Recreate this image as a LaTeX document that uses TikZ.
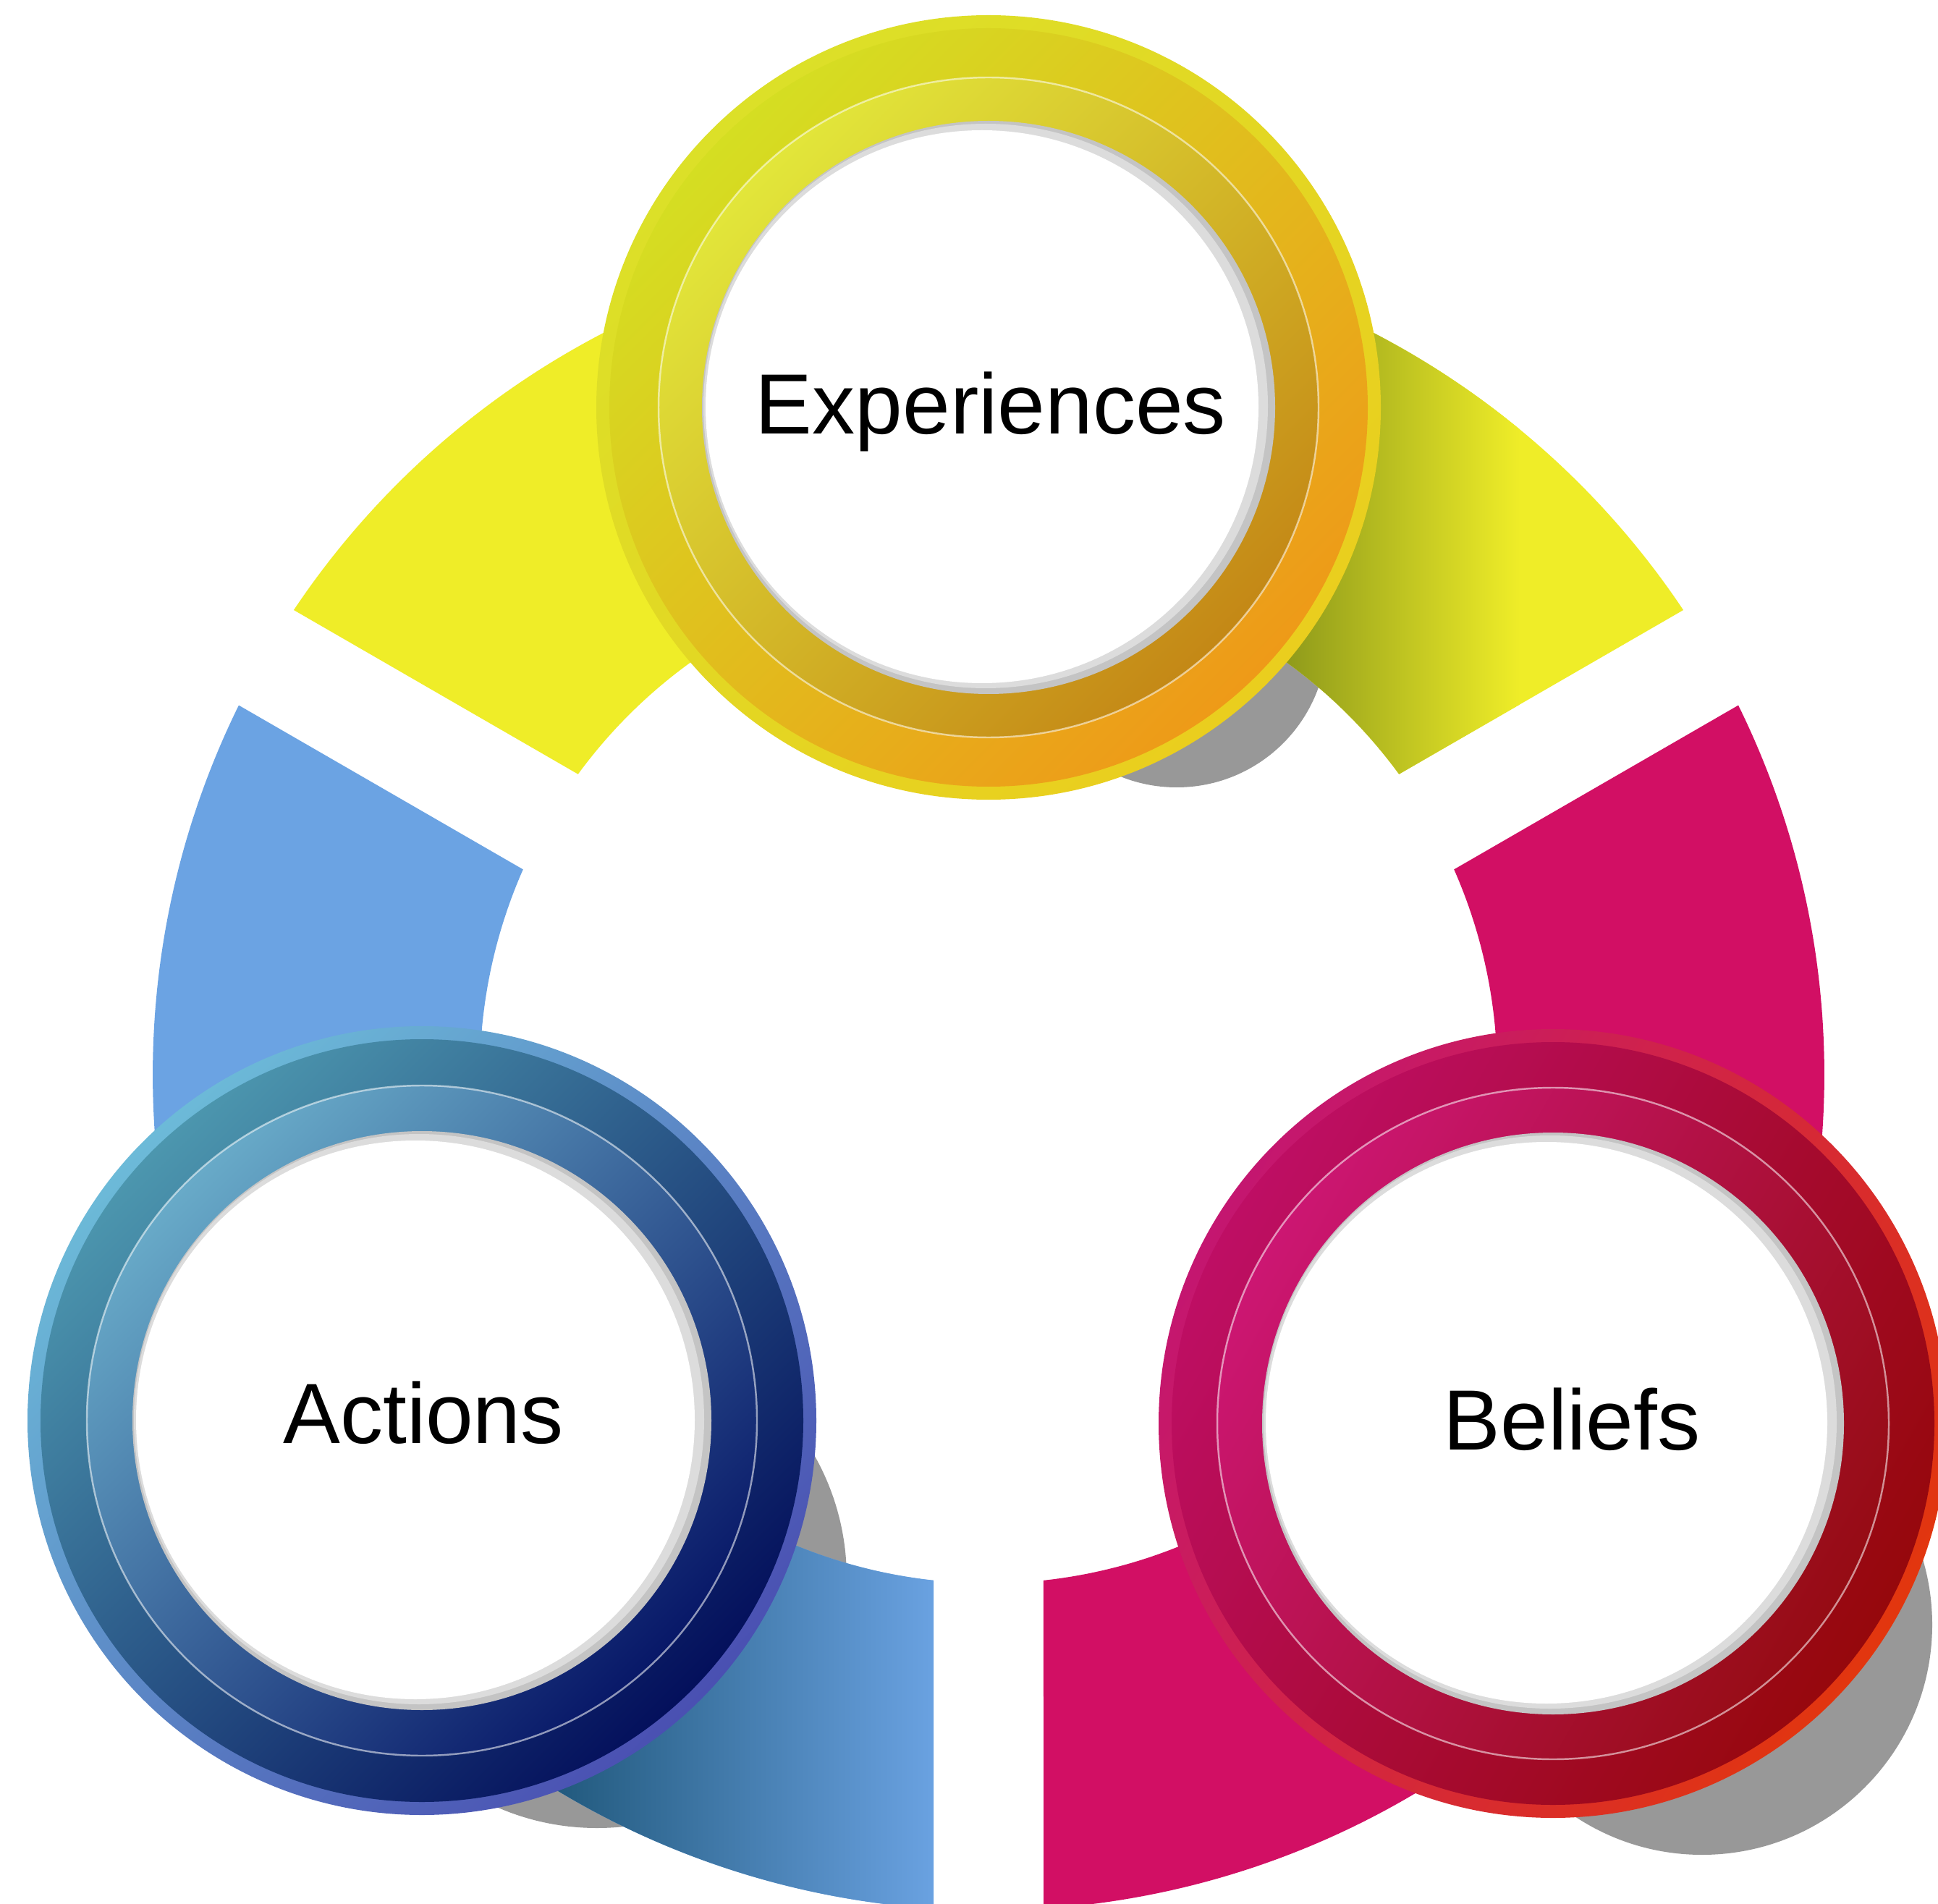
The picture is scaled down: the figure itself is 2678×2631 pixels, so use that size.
\documentclass[tikz,border=0pt]{standalone}
\usepackage{fontspec}
\setmainfont{Liberation Sans}
\usetikzlibrary{calc}

% ring segments
\definecolor{segYellow}{RGB}{239,237,40}
\definecolor{segBlue}{RGB}{107,163,227}
\definecolor{segMagenta}{RGB}{210,15,100}
\definecolor{yellowShade}{RGB}{138,150,26}
\definecolor{yellowMid}{RGB}{200,208,32}
\definecolor{blueShade}{RGB}{24,80,112}
\definecolor{blueMid}{RGB}{40,104,150}
\definecolor{shadowGray}{RGB}{152,152,152}
% discs
\definecolor{discGrayA}{RGB}{196,196,196}
\definecolor{discGrayB}{RGB}{220,220,220}
% Experiences ring
\definecolor{expRimA}{RGB}{220,224,40}
\definecolor{expRimB}{RGB}{234,206,30}
\definecolor{expOuterA}{RGB}{213,222,34}
\definecolor{expOuterM}{RGB}{232,190,30}
\definecolor{expOuterB}{RGB}{238,154,24}
\definecolor{expInnerA}{RGB}{226,230,58}
\definecolor{expInnerM}{RGB}{232,196,38}
\definecolor{expInnerB}{RGB}{196,136,22}
% Actions ring
\definecolor{actRimA}{RGB}{108,186,216}
\definecolor{actRimB}{RGB}{74,80,178}
\definecolor{actOuterA}{RGB}{76,150,174}
\definecolor{actOuterM}{RGB}{32,84,146}
\definecolor{actOuterB}{RGB}{4,16,92}
\definecolor{actInnerA}{RGB}{104,170,200}
\definecolor{actInnerM}{RGB}{48,98,160}
\definecolor{actInnerB}{RGB}{8,24,104}
% Beliefs ring
\definecolor{belRimA}{RGB}{196,22,112}
\definecolor{belRimB}{RGB}{226,54,14}
\definecolor{belOuterA}{RGB}{190,14,100}
\definecolor{belOuterM}{RGB}{180,0,50}
\definecolor{belOuterB}{RGB}{150,8,12}
\definecolor{belInnerA}{RGB}{204,22,114}
\definecolor{belInnerM}{RGB}{190,16,70}
\definecolor{belInnerB}{RGB}{150,12,20}

\begin{document}
\begin{tikzpicture}[x=0.01cm,y=-0.01cm,
  ringtext/.style={font=\fontsize{33.6}{40}\selectfont, text=black, inner sep=0pt, anchor=base},
  shadowblob/.style={fill=shadowGray},
  thinline/.style={draw=white, draw opacity=0.55, line width=0.7pt},
]
\useasboundingbox (0,0) rectangle (2678,2631);
\clip (0,0) rectangle (2678,2631);
\fill[white] (0,0) rectangle (2678,2631);

\coordinate (O) at (1366,1485);
\coordinate (E) at (1366,563);
\coordinate (A) at (583,1963);
\coordinate (B) at (2146,1967);

% drop shadows cast by the three rings
\fill[shadowblob] (1626,880) circle[radius=208];
\fill[shadowblob] (825,2181) circle[radius=345];
\fill[shadowblob] (2352,2245) circle[radius=318];

% big segmented ring (outer 1155, inner 703, gaps 152 wide)
\begin{scope}[shift={(O)}]
  % top segment
  \begin{scope}
    \clip (213.773:1155) arc[start angle=213.773, end angle=326.227, radius=1155]
      -- (323.794:703) arc[start angle=323.794, end angle=216.206, radius=703] -- cycle;
    \fill[segYellow] (-1200,-1200) rectangle (1200,1200);
    \shade[left color=yellowShade, middle color=yellowMid, right color=segYellow]
      (394,-1200) rectangle (734,-300);
  \end{scope}
  % right segment
  \fill[segMagenta] (-26.227:1155) arc[start angle=-26.227, end angle=86.227, radius=1155]
      -- (83.794:703) arc[start angle=83.794, end angle=-23.794, radius=703] -- cycle;
  % left segment
  \begin{scope}
    \clip (93.773:1155) arc[start angle=93.773, end angle=206.227, radius=1155]
      -- (203.794:703) arc[start angle=203.794, end angle=96.206, radius=703] -- cycle;
    \fill[segBlue] (-1200,-1200) rectangle (1200,1200);
    \shade[left color=blueShade, middle color=blueMid, right color=segBlue]
      (-666,565) rectangle (-66,1160);
  \end{scope}
\end{scope}

% Experiences ring
\shade[top color=expRimA, bottom color=expRimB, shading angle=45] (E) circle[radius=542];
\shade[top color=expOuterA, middle color=expOuterM, bottom color=expOuterB, shading angle=45] (E) circle[radius=524];
\shade[top color=expInnerA, middle color=expInnerM, bottom color=expInnerB, shading angle=45] (E) circle[radius=456];
\draw[thinline] (E) circle[radius=456];
\fill[discGrayA] (E) circle[radius=396];
\fill[discGrayB] ($(E)+(-4,-2)$) circle[radius=390];
\fill[white] ($(E)+(-9,-1)$) circle[radius=382];

% Actions ring
\shade[top color=actRimA, bottom color=actRimB, shading angle=45] (A) circle[radius=545];
\shade[top color=actOuterA, middle color=actOuterM, bottom color=actOuterB, shading angle=45] (A) circle[radius=527];
\shade[top color=actInnerA, middle color=actInnerM, bottom color=actInnerB, shading angle=45] (A) circle[radius=463];
\draw[thinline] (A) circle[radius=463];
\fill[discGrayA] (A) circle[radius=400];
\fill[discGrayB] ($(A)+(-4,-2)$) circle[radius=394];
\fill[white] ($(A)+(-9,-1)$) circle[radius=386];

% Beliefs ring
\shade[top color=belRimA, bottom color=belRimB, shading angle=60] (B) circle[radius=545];
\shade[top color=belOuterA, middle color=belOuterM, bottom color=belOuterB, shading angle=60] (B) circle[radius=527];
\shade[top color=belInnerA, middle color=belInnerM, bottom color=belInnerB, shading angle=60] (B) circle[radius=464];
\draw[thinline] (B) circle[radius=464];
\fill[discGrayA] (B) circle[radius=402];
\fill[discGrayB] ($(B)+(-4,-2)$) circle[radius=396];
\fill[white] ($(B)+(-9,-1)$) circle[radius=388];

% labels
\node[ringtext] (expText) at (1369,600) {Experiences};
\node[ringtext] (actText) at (585,1994) {Actions};
\node[ringtext] (belText) at (2172,2003) {Beliefs};
\end{tikzpicture}
\end{document}
